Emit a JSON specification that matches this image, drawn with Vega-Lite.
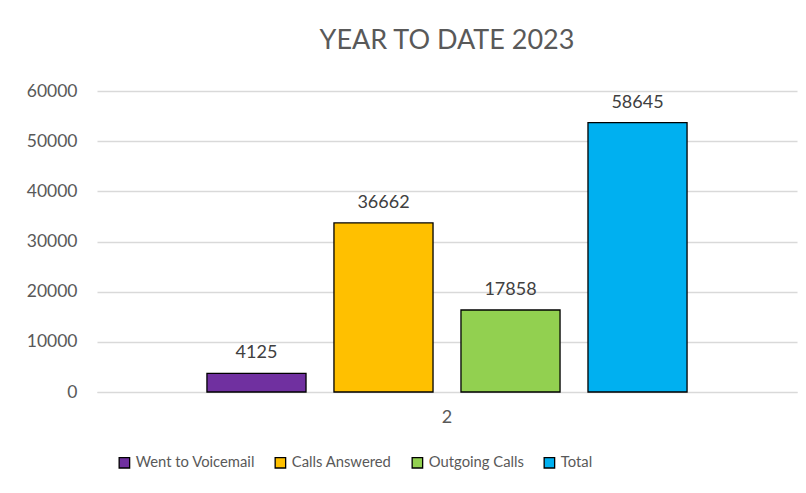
{
  "$schema": "https://vega.github.io/schema/vega-lite/v6.json",
  "width": 700,
  "height": 301,
  "autosize": {"type": "none"},
  "padding": {"left": 97, "top": 91, "right": 9, "bottom": 101},
  "background": "white",
  "title": {
    "text": "YEAR TO DATE 2023",
    "font": "Lato",
    "fontSize": 27,
    "fontWeight": "normal",
    "color": "#595959",
    "anchor": "middle",
    "frame": "group",
    "baseline": "alphabetic",
    "offset": 6
  },
  "data": {
    "values": [
      {"group": "2", "series": "Went to Voicemail", "bar": 3700, "label": 4125},
      {"group": "2", "series": "Calls Answered", "bar": 33700, "label": 36662},
      {"group": "2", "series": "Outgoing Calls", "bar": 16350, "label": 17858},
      {"group": "2", "series": "Total", "bar": 53700, "label": 58645}
    ]
  },
  "encoding": {
    "x": {
      "field": "group",
      "type": "nominal",
      "title": null,
      "scale": {"paddingInner": 0, "paddingOuter": 0.229},
      "axis": {
        "labelAngle": 0,
        "labelFont": "Lato",
        "labelFontSize": 18,
        "labelColor": "#595959",
        "ticks": false,
        "domain": true,
        "domainColor": "#d9d9d9",
        "labelPadding": 16
      }
    },
    "xOffset": {
      "field": "series",
      "type": "nominal",
      "sort": ["Went to Voicemail", "Calls Answered", "Outgoing Calls", "Total"],
      "scale": {"paddingInner": 0.22, "paddingOuter": 0}
    },
    "y": {
      "field": "bar",
      "type": "quantitative",
      "title": null,
      "scale": {"domain": [0, 60000], "nice": false},
      "axis": {
        "values": [0, 10000, 20000, 30000, 40000, 50000, 60000],
        "format": "d",
        "labelFont": "Lato",
        "labelFontSize": 17.5,
        "labelColor": "#595959",
        "ticks": false,
        "domain": false,
        "gridColor": "#d9d9d9",
        "gridWidth": 1.3,
        "labelPadding": 20
      }
    }
  },
  "layer": [
    {
      "mark": {"type": "bar", "stroke": "#000000", "strokeWidth": 1.3},
      "encoding": {
        "color": {
          "field": "series",
          "type": "nominal",
          "scale": {
            "domain": ["Went to Voicemail", "Calls Answered", "Outgoing Calls", "Total"],
            "range": ["#7030A0", "#FFC000", "#92D050", "#00B0F0"]
          },
          "legend": {
            "title": null,
            "orient": "none",
            "legendX": 20,
            "legendY": 364,
            "direction": "horizontal",
            "columns": 4,
            "columnPadding": 17,
            "symbolType": "square",
            "symbolSize": 110,
            "symbolStrokeColor": "#000000",
            "symbolStrokeWidth": 1.3,
            "labelFont": "Lato",
            "labelFontSize": 14.8,
            "labelColor": "#595959",
            "labelOffset": 4
          }
        }
      }
    },
    {
      "mark": {"type": "text", "font": "Lato", "fontSize": 18, "color": "#404040", "baseline": "alphabetic", "dy": -15},
      "encoding": {
        "text": {"field": "label", "type": "quantitative"}
      }
    }
  ],
  "config": {"view": {"stroke": null}}
}
